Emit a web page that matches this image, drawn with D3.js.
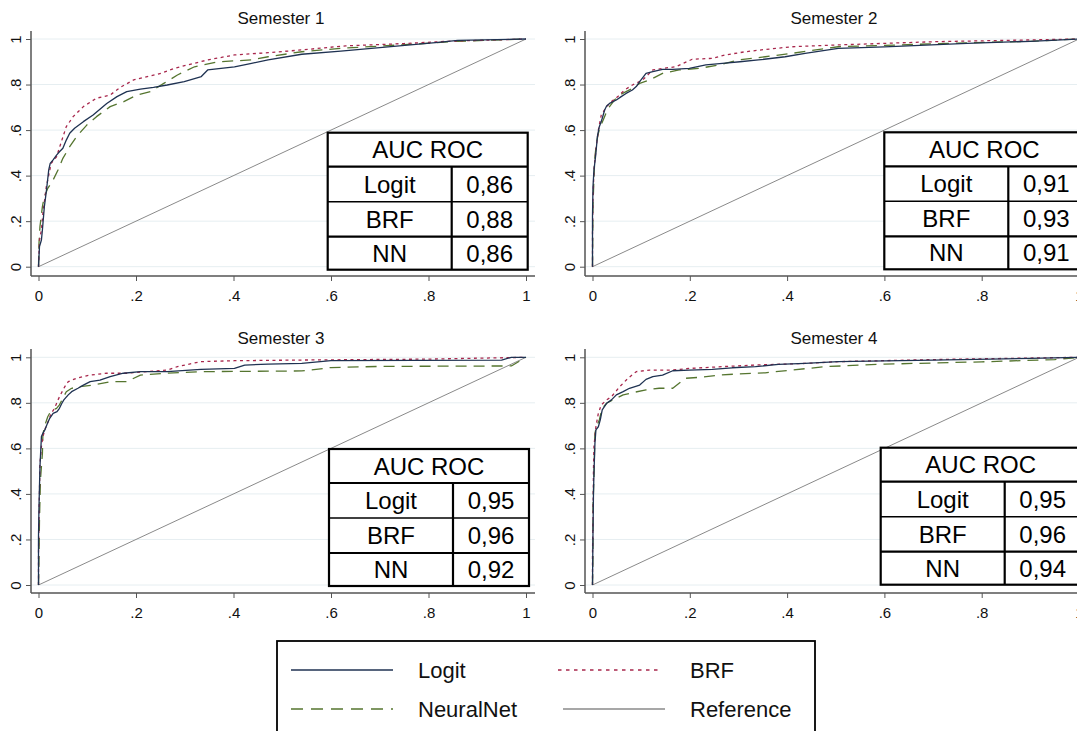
<!DOCTYPE html>
<html><head><meta charset="utf-8">
<script src="https://cdn.jsdelivr.net/npm/d3@7"></script>
<style>
html,body{margin:0;padding:0;background:#fff;}
svg{display:block;font-family:"Liberation Sans",Arial,sans-serif;}
</style></head>
<body><svg id="c" width="1077" height="731"></svg>
<script>
// ---------- data ----------
const semesters = ["Semester 1","Semester 2","Semester 3","Semester 4"];
const xTicks = [0,0.2,0.4,0.6,0.8,1];
const yTicks = [0,0.2,0.4,0.6,0.8,1];
const tickLabels = ["0",".2",".4",".6",".8","1"];
const tableModels = ["Logit","BRF","NN"];
const aucLogit = ["0,86","0,91","0,95","0,95"];
const aucBRF   = ["0,88","0,93","0,96","0,96"];
const aucNN    = ["0,86","0,91","0,92","0,94"];
const legendNames = ["Logit","BRF","NeuralNet","Reference"];
const referenceLine = [[0,0],[1,1]];

const s1Logit = [[0,0],[0.002,0.088],[0.006,0.117],[0.008,0.161],[0.012,0.264],[0.016,0.329],[0.021,0.425],[0.024,0.454],[0.030,0.469],[0.037,0.490],[0.043,0.505],[0.050,0.520],[0.057,0.556],[0.064,0.586],[0.074,0.608],[0.092,0.637],[0.112,0.666],[0.140,0.717],[0.161,0.747],[0.181,0.769],[0.209,0.780],[0.236,0.788],[0.264,0.798],[0.299,0.813],[0.334,0.835],[0.347,0.864],[0.402,0.878],[0.437,0.893],[0.471,0.908],[0.540,0.933],[0.62,0.947],[0.74,0.970],[0.82,0.985],[0.86,0.994],[1,1]];
const s1BRF = [[0,0],[0.002,0.117],[0.006,0.161],[0.009,0.234],[0.016,0.351],[0.026,0.454],[0.037,0.483],[0.048,0.556],[0.057,0.615],[0.071,0.659],[0.092,0.703],[0.119,0.740],[0.147,0.754],[0.168,0.788],[0.195,0.820],[0.223,0.835],[0.251,0.849],[0.278,0.871],[0.306,0.886],[0.347,0.908],[0.402,0.930],[0.471,0.940],[0.540,0.952],[0.63,0.970],[0.75,0.980],[0.84,0.990],[1,1]];
const s1NN = [[0,0],[0.001,0.102],[0.003,0.176],[0.008,0.264],[0.012,0.307],[0.019,0.344],[0.030,0.381],[0.040,0.425],[0.050,0.476],[0.064,0.527],[0.078,0.571],[0.099,0.622],[0.119,0.659],[0.147,0.703],[0.175,0.725],[0.202,0.754],[0.230,0.769],[0.257,0.805],[0.285,0.842],[0.320,0.878],[0.368,0.900],[0.437,0.908],[0.471,0.922],[0.540,0.944],[0.62,0.959],[0.75,0.975],[0.86,0.990],[1,1]];

const s2Logit = [[0,0],[0,0.22],[0.001,0.351],[0.003,0.424],[0.007,0.498],[0.010,0.571],[0.014,0.615],[0.019,0.644],[0.022,0.666],[0.025,0.688],[0.029,0.706],[0.035,0.717],[0.049,0.732],[0.059,0.747],[0.069,0.761],[0.082,0.776],[0.090,0.791],[0.097,0.813],[0.110,0.849],[0.124,0.857],[0.144,0.867],[0.165,0.867],[0.199,0.871],[0.233,0.886],[0.267,0.893],[0.303,0.900],[0.341,0.908],[0.396,0.922],[0.437,0.937],[0.505,0.959],[0.60,0.965],[0.77,0.981],[0.90,0.990],[1,1]];
const s2BRF = [[0,0],[0,0.146],[0.001,0.293],[0.003,0.425],[0.007,0.512],[0.012,0.600],[0.018,0.666],[0.029,0.703],[0.039,0.725],[0.052,0.747],[0.066,0.776],[0.082,0.798],[0.103,0.820],[0.124,0.864],[0.144,0.871],[0.171,0.878],[0.205,0.911],[0.246,0.915],[0.273,0.930],[0.314,0.944],[0.355,0.954],[0.410,0.966],[0.505,0.974],[0.70,0.988],[0.975,0.999],[1,1]];
const s2NN = [[0,0],[0.001,0.264],[0.003,0.395],[0.005,0.483],[0.008,0.542],[0.012,0.586],[0.016,0.615],[0.022,0.644],[0.029,0.681],[0.035,0.703],[0.045,0.732],[0.056,0.754],[0.069,0.769],[0.082,0.783],[0.097,0.805],[0.117,0.820],[0.144,0.849],[0.178,0.864],[0.219,0.871],[0.260,0.886],[0.301,0.908],[0.355,0.922],[0.410,0.937],[0.505,0.966],[0.60,0.972],[0.75,0.982],[0.90,0.990],[1,1]];

const s3Logit = [[0,0],[0,0.212],[0.001,0.344],[0.003,0.520],[0.006,0.652],[0.009,0.666],[0.013,0.681],[0.017,0.703],[0.023,0.732],[0.030,0.754],[0.038,0.761],[0.043,0.776],[0.048,0.798],[0.052,0.813],[0.061,0.835],[0.068,0.849],[0.081,0.864],[0.092,0.878],[0.106,0.893],[0.126,0.900],[0.147,0.915],[0.174,0.930],[0.209,0.937],[0.264,0.937],[0.333,0.947],[0.402,0.951],[0.423,0.966],[0.471,0.970],[0.540,0.973],[0.60,0.985],[0.95,0.988],[0.97,1],[1,1]];
const s3BRF = [[0,0],[0,0.139],[0.001,0.285],[0.003,0.534],[0.006,0.608],[0.009,0.652],[0.014,0.688],[0.021,0.725],[0.026,0.754],[0.033,0.776],[0.040,0.813],[0.045,0.835],[0.054,0.871],[0.061,0.893],[0.078,0.908],[0.106,0.922],[0.140,0.930],[0.181,0.930],[0.264,0.944],[0.285,0.959],[0.333,0.981],[0.402,0.985],[0.540,0.988],[0.80,0.992],[1,1]];
const s3NN = [[0,0],[0.001,0.110],[0.002,0.285],[0.004,0.461],[0.008,0.578],[0.009,0.659],[0.012,0.695],[0.019,0.739],[0.026,0.766],[0.037,0.776],[0.043,0.791],[0.050,0.820],[0.057,0.849],[0.068,0.864],[0.085,0.871],[0.113,0.878],[0.147,0.893],[0.181,0.893],[0.209,0.922],[0.264,0.930],[0.333,0.937],[0.540,0.940],[0.60,0.955],[0.70,0.960],[0.97,0.962],[1,1]];

const s4Logit = [[0,0],[0.001,0.227],[0.002,0.403],[0.003,0.490],[0.005,0.622],[0.007,0.681],[0.012,0.695],[0.016,0.725],[0.020,0.769],[0.029,0.798],[0.039,0.813],[0.049,0.835],[0.063,0.849],[0.076,0.864],[0.097,0.878],[0.110,0.903],[0.124,0.915],[0.144,0.922],[0.165,0.941],[0.199,0.944],[0.246,0.947],[0.287,0.954],[0.335,0.959],[0.382,0.969],[0.437,0.973],[0.505,0.981],[0.70,0.988],[0.90,0.995],[1,1]];
const s4BRF = [[0,0],[0,0.139],[0.001,0.285],[0.002,0.505],[0.003,0.608],[0.007,0.695],[0.012,0.754],[0.018,0.791],[0.029,0.813],[0.039,0.827],[0.056,0.871],[0.073,0.908],[0.090,0.937],[0.117,0.944],[0.165,0.944],[0.199,0.951],[0.267,0.959],[0.335,0.966],[0.437,0.973],[0.505,0.981],[0.70,0.990],[1,1]];
const s4NN = [[0,0],[0.001,0.139],[0.001,0.344],[0.003,0.476],[0.004,0.578],[0.005,0.666],[0.008,0.695],[0.014,0.725],[0.020,0.776],[0.029,0.798],[0.042,0.813],[0.063,0.835],[0.083,0.845],[0.110,0.857],[0.137,0.864],[0.165,0.864],[0.178,0.886],[0.192,0.908],[0.219,0.912],[0.260,0.922],[0.301,0.927],[0.355,0.932],[0.410,0.944],[0.478,0.959],[0.60,0.970],[0.80,0.980],[0.95,0.990],[1,1]];

const logitSeries = [s1Logit,s2Logit,s3Logit,s4Logit];
const brfSeries = [s1BRF,s2BRF,s3BRF,s4BRF];
const nnSeries = [s1NN,s2NN,s3NN,s4NN];

// ---------- styles / layout ----------
const COL = {logit:"#1f3252", brf:"#a8274c", nn:"#55752f", ref:"#8a8a8a", axis:"#555", grid:"#e6eef1"};
const DASH = {logit:null, brf:"3,3.5", nn:"11,7", ref:null};
const layout = [
  {x0:38.5, x1:526,  yb:266.7, yt:39,    axX:31,  axY:276, axTop:31,  axRight:535,  titleX:281, titleY:24,  tbl:{l:327.7,t:132.7}},
  {x0:592.5,x1:1079, yb:266.7, yt:39,    axX:585, axY:276, axTop:31,  axRight:1090, titleX:834, titleY:24,  tbl:{l:884.3,t:132.3}},
  {x0:38.5, x1:526,  yb:585,   yt:357.3, axX:31,  axY:593, axTop:349, axRight:535,  titleX:281, titleY:344, tbl:{l:329,t:449}},
  {x0:592.5,x1:1079, yb:585,   yt:357.3, axX:585, axY:593, axTop:349, axRight:1090, titleX:834, titleY:344, tbl:{l:880.7,t:447.7}}
];
const svg = d3.select("#c");
const fmt = d => tickLabels[xTicks.indexOf(d)];

layout.forEach((L,i)=>{
  const g = svg.append("g");
  const x = d3.scaleLinear().domain([0,1]).range([L.x0,L.x1]);
  const y = d3.scaleLinear().domain([0,1]).range([L.yb,L.yt]);
  // grid
  g.selectAll(".grid").data(yTicks).join("line")
    .attr("x1",L.axX).attr("x2",L.axRight).attr("y1",d=>y(d)).attr("y2",d=>y(d))
    .attr("stroke",COL.grid).attr("stroke-width",1);
  // title
  g.append("text").attr("x",L.titleX).attr("y",L.titleY).attr("text-anchor","middle")
    .attr("font-size",17).attr("fill","#111").text(semesters[i]);
  // reference diagonal
  const line = d3.line().x(d=>x(d[0])).y(d=>y(d[1]));
  g.append("path").attr("d",line(referenceLine)).attr("fill","none").attr("stroke",COL.ref).attr("stroke-width",1);
  // table
  const T = L.tbl, W=200, DIV=124, rows=[0,34,69,104,137];
  const tg = g.append("g").attr("transform",`translate(${T.l},${T.t})`);
  tg.append("rect").attr("x",0).attr("y",0).attr("width",W).attr("height",rows[4]).attr("fill","#fff").attr("stroke","#000").attr("stroke-width",2.2);
  [1,2,3].forEach(r=>tg.append("line").attr("x1",0).attr("x2",W).attr("y1",rows[r]).attr("y2",rows[r]).attr("stroke","#000").attr("stroke-width",r===2?1.6:2.2));
  tg.append("line").attr("x1",DIV).attr("x2",DIV).attr("y1",rows[1]).attr("y2",rows[4]).attr("stroke","#000").attr("stroke-width",2.2);
  tg.append("text").attr("x",W/2).attr("y",(rows[0]+rows[1])/2).attr("dy","0.36em").attr("text-anchor","middle").attr("font-size",24).text("AUC ROC");
  const vals=[aucLogit[i],aucBRF[i],aucNN[i]];
  tableModels.forEach((m,k)=>{
    const cy=(rows[k+1]+rows[k+2])/2;
    tg.append("text").attr("x",DIV/2).attr("y",cy).attr("dy","0.36em").attr("text-anchor","middle").attr("font-size",24).text(m);
    tg.append("text").attr("x",(DIV+W)/2).attr("y",cy).attr("dy","0.36em").attr("text-anchor","middle").attr("font-size",24).text(vals[k]);
  });
  // curves
  const curves=[[nnSeries[i],COL.nn,DASH.nn],[brfSeries[i],COL.brf,DASH.brf],[logitSeries[i],COL.logit,DASH.logit]];
  curves.forEach(([data,c,dash])=>{
    const p=g.append("path").attr("d",line(data)).attr("fill","none").attr("stroke",c).attr("stroke-width",1.3).attr("stroke-linejoin","round");
    if(dash) p.attr("stroke-dasharray",dash);
  });
  // axes
  const ya = g.append("g").attr("transform",`translate(${L.axX},0)`)
    .call(d3.axisLeft(y).tickValues(yTicks).tickFormat(fmt).tickSize(5).tickSizeOuter(0));
  ya.select(".domain").remove();
  ya.selectAll(".tick line").attr("stroke",COL.axis);
  ya.selectAll(".tick text").attr("x",null).attr("dy",null).attr("y",null)
    .attr("transform","translate(-16,0) rotate(-90)").attr("text-anchor","middle")
    .attr("dominant-baseline","central").attr("font-size",15).attr("fill","#111")
    .attr("font-family","Liberation Sans, Arial, sans-serif");
  const xa = g.append("g").attr("transform",`translate(0,${L.axY})`)
    .call(d3.axisBottom(x).tickValues(xTicks).tickFormat(fmt).tickSize(5).tickPadding(9).tickSizeOuter(0));
  xa.select(".domain").remove();
  xa.selectAll(".tick line").attr("stroke",COL.axis);
  xa.selectAll(".tick text").attr("font-size",15).attr("fill","#111").attr("font-family","Liberation Sans, Arial, sans-serif");
  g.append("line").attr("x1",L.axX).attr("x2",L.axX).attr("y1",L.axTop).attr("y2",L.axY).attr("stroke",COL.axis).attr("stroke-width",1.5);
  g.append("line").attr("x1",L.axX).attr("x2",L.axRight).attr("y1",L.axY).attr("y2",L.axY).attr("stroke",COL.axis).attr("stroke-width",1.5);
});

// legend
const lg = svg.append("g");
lg.append("rect").attr("x",277).attr("y",641).attr("width",538).attr("height",110).attr("fill","#fff").attr("stroke","#000").attr("stroke-width",1.8);
const legItems = [
  {name:legendNames[0], c:COL.logit, d:DASH.logit, lx:291, tx:418, y:670},
  {name:legendNames[1], c:COL.brf, d:DASH.brf, lx:558, tx:690, y:670},
  {name:legendNames[2], c:COL.nn, d:DASH.nn, lx:291, tx:418, y:709},
  {name:legendNames[3], c:COL.ref, d:DASH.ref, lx:563, tx:690, y:709}
];
legItems.forEach(it=>{
  const l=lg.append("line").attr("x1",it.lx).attr("x2",it.lx+102).attr("y1",it.y).attr("y2",it.y).attr("stroke",it.c).attr("stroke-width",1.6);
  if(it.d) l.attr("stroke-dasharray",it.d==="3,3.5"?"3.5,4.5":"12,8");
  lg.append("text").attr("x",it.tx).attr("y",it.y).attr("dy","0.36em").attr("font-size",22).attr("fill","#111").text(it.name);
});
</script></body></html>
